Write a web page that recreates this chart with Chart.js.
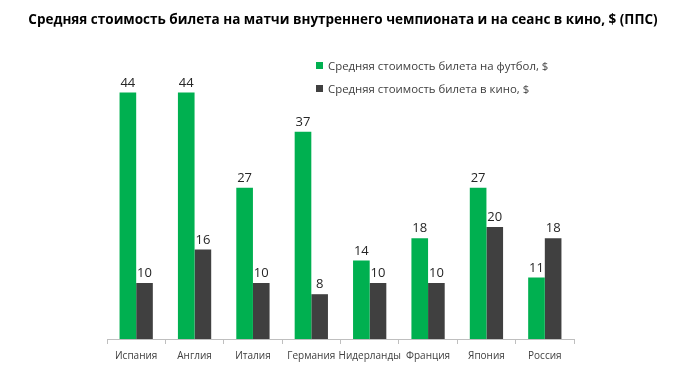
<!DOCTYPE html>
<html>
<head>
<meta charset="utf-8">
<script src="https://cdn.jsdelivr.net/npm/chart.js@4/dist/chart.umd.min.js"></script>
<style>
  html, body { margin: 0; padding: 0; background: #fff; }
  #wrap { position: relative; width: 686px; height: 379px; }
  #title {
    position: absolute; left: 0; top: 10px; width: 686px; text-align: center;
    font: bold 13.5px "Open Sans", sans-serif; color: #000;
  }
  #legend { position: absolute; left: 316px; top: 54px; font: 11.4px "Open Sans", sans-serif; color: #404040; }
  #legend .row { display: flex; align-items: center; height: 23px; }
  #legend .sw { width: 7px; height: 7px; margin-right: 5px; }
</style>
</head>
<body>
<div id="wrap">
  <canvas id="chart" width="686" height="379"></canvas>
  <div id="title">Средняя стоимость билета на матчи внутреннего чемпионата и на сеанс в кино, $ (ППС)</div>
  <div id="legend"></div>
</div>
<script>
// --- данные ---
const categories = ['Испания', 'Англия', 'Италия', 'Германия', 'Нидерланды', 'Франция', 'Япония', 'Россия'];
const football = [44, 44, 27, 37, 14, 18, 27, 11];
const cinema = [10, 16, 10, 8, 10, 10, 20, 18];
const seriesNames = ['Средняя стоимость билета на футбол, $', 'Средняя стоимость билета в кино, $'];
const seriesColors = ['#00b050', '#404040'];

// подписи значений над столбцами
const valueLabels = {
  id: 'valueLabels',
  afterDatasetsDraw(chart) {
    const c = chart.ctx;
    c.save();
    c.font = '13px "Open Sans", sans-serif';
    c.fillStyle = '#262626';
    c.textAlign = 'center';
    c.textBaseline = 'bottom';
    chart.data.datasets.forEach((ds, i) => {
      chart.getDatasetMeta(i).data.forEach((bar, j) => {
        c.fillText(ds.data[j], bar.x, bar.y - 3);
      });
    });
    c.restore();
  }
};

new Chart(document.getElementById('chart'), {
  type: 'bar',
  data: {
    labels: categories,
    datasets: [
      { label: seriesNames[0], data: football, backgroundColor: seriesColors[0] },
      { label: seriesNames[1], data: cinema, backgroundColor: seriesColors[1] }
    ]
  },
  options: {
    responsive: false,
    animation: false,
    layout: { padding: { left: 107, right: 112, top: 59, bottom: 11 } },
    plugins: { legend: { display: false }, tooltip: { enabled: false } },
    datasets: { bar: { categoryPercentage: 0.57, barPercentage: 1 } },
    scales: {
      x: {
        grid: { drawOnChartArea: false, tickLength: 5, color: '#bfbfbf' },
        border: { color: '#bfbfbf' },
        ticks: { color: '#404040', font: { family: 'Open Sans', size: 10 }, padding: 6, maxRotation: 0, minRotation: 0, autoSkip: false }
      },
      y: { display: false, min: 0, max: 50 }
    }
  },
  plugins: [valueLabels]
});

// легенда
const legend = document.getElementById('legend');
seriesNames.forEach((name, i) => {
  const row = document.createElement('div');
  row.className = 'row';
  row.innerHTML = `<span class="sw" style="background:${seriesColors[i]}"></span>${name}`;
  legend.appendChild(row);
});
</script>
</body>
</html>
